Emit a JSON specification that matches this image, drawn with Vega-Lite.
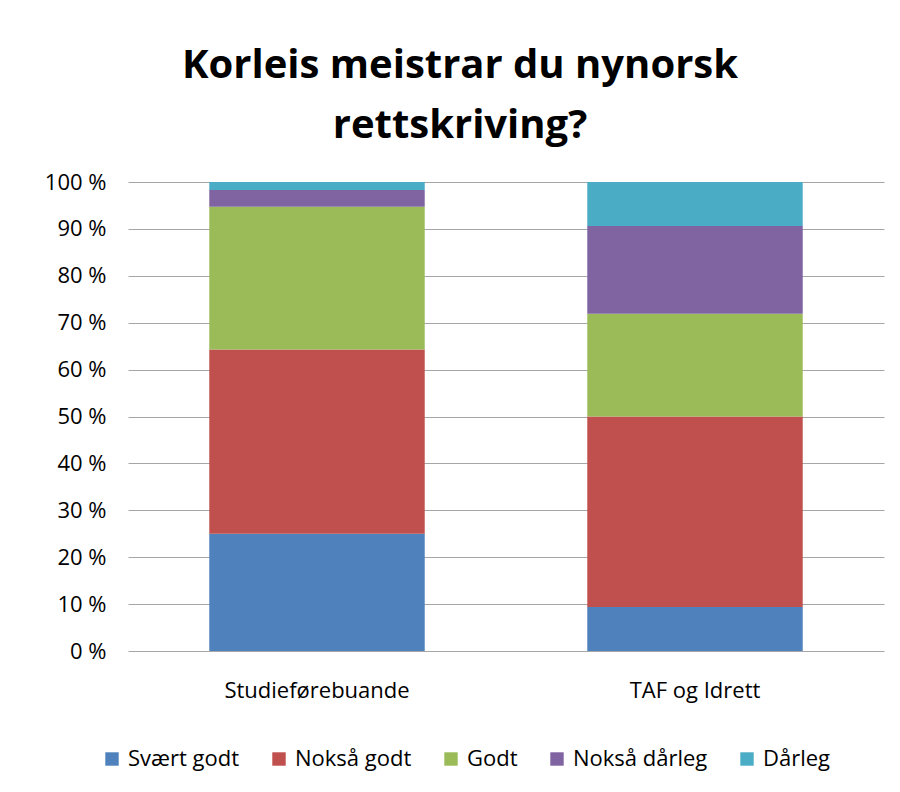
{
  "$schema": "https://vega.github.io/schema/vega-lite/v6.json",
  "autosize": "none",
  "width": 756,
  "height": 469,
  "padding": {"left": 128, "top": 182, "right": 16, "bottom": 141},
  "background": "white",
  "title": {
    "text": ["Korleis meistrar du nynorsk", "rettskriving?"],
    "font": "Open Sans",
    "fontSize": 40,
    "fontWeight": "bold",
    "color": "#000000",
    "lineHeight": 60,
    "anchor": "middle",
    "dx": -46,
    "offset": 25
  },
  "data": {
    "values": [
      {"gruppe": "Studieførebuande", "svar": "Svært godt", "i": 1, "pct": 25.0},
      {"gruppe": "Studieførebuande", "svar": "Nokså godt", "i": 2, "pct": 39.3},
      {"gruppe": "Studieførebuande", "svar": "Godt", "i": 3, "pct": 30.4},
      {"gruppe": "Studieførebuande", "svar": "Nokså dårleg", "i": 4, "pct": 3.6},
      {"gruppe": "Studieførebuande", "svar": "Dårleg", "i": 5, "pct": 1.7},
      {"gruppe": "TAF og Idrett", "svar": "Svært godt", "i": 1, "pct": 9.4},
      {"gruppe": "TAF og Idrett", "svar": "Nokså godt", "i": 2, "pct": 40.6},
      {"gruppe": "TAF og Idrett", "svar": "Godt", "i": 3, "pct": 21.9},
      {"gruppe": "TAF og Idrett", "svar": "Nokså dårleg", "i": 4, "pct": 18.7},
      {"gruppe": "TAF og Idrett", "svar": "Dårleg", "i": 5, "pct": 9.4}
    ]
  },
  "mark": {"type": "bar"},
  "encoding": {
    "x": {
      "field": "gruppe",
      "type": "nominal",
      "sort": null,
      "scale": {"paddingInner": 0.43, "paddingOuter": 0.215},
      "axis": {
        "title": null,
        "labelAngle": 0,
        "labelFont": "Open Sans",
        "labelFontSize": 22,
        "labelLimit": 400,
        "labelColor": "#000000",
        "labelPadding": 29,
        "domain": false,
        "ticks": false
      }
    },
    "y": {
      "field": "pct",
      "type": "quantitative",
      "stack": "zero",
      "scale": {"domain": [0, 100]},
      "axis": {
        "title": null,
        "values": [0, 10, 20, 30, 40, 50, 60, 70, 80, 90, 100],
        "labelExpr": "datum.value + ' %'",
        "labelFont": "Open Sans",
        "labelFontSize": 22,
        "labelColor": "#000000",
        "labelPadding": 22,
        "domain": false,
        "ticks": false,
        "grid": true,
        "gridColor": "#a6a6a6",
        "gridWidth": 1.2
      }
    },
    "color": {
      "field": "svar",
      "type": "nominal",
      "sort": ["Svært godt", "Nokså godt", "Godt", "Nokså dårleg", "Dårleg"],
      "scale": {
        "domain": ["Svært godt", "Nokså godt", "Godt", "Nokså dårleg", "Dårleg"],
        "range": ["#4F81BD", "#C0504D", "#9BBB59", "#8064A2", "#4BACC6"]
      },
      "legend": {
        "title": null,
        "orient": "none",
        "direction": "horizontal",
        "legendX": -27,
        "legendY": 566,
        "symbolType": "square",
        "symbolSize": 180,
        "symbolStrokeWidth": 0,
        "labelFont": "Open Sans",
        "labelFontSize": 22,
        "labelLimit": 300,
        "labelColor": "#000000",
        "labelOffset": 5,
        "columnPadding": 28
      }
    },
    "order": {"field": "i", "type": "quantitative"}
  },
  "config": {
    "view": {"stroke": null}
  }
}
